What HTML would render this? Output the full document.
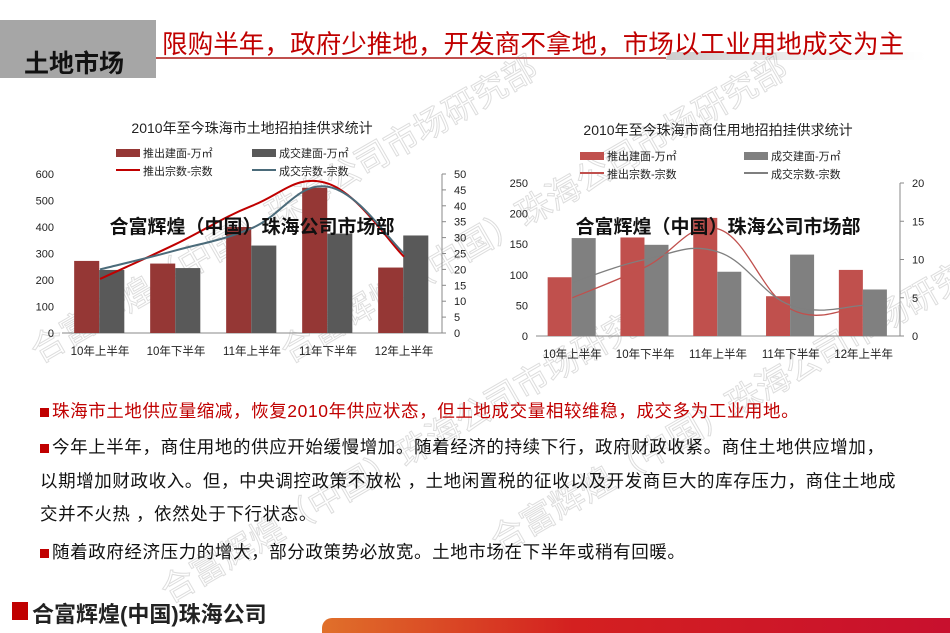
<!DOCTYPE html>
<html><head><meta charset="utf-8">
<style>
body{margin:0;width:950px;height:633px;overflow:hidden;background:#fff;position:relative;font-family:"Liberation Sans","Noto Sans CJK SC",sans-serif}
.abs{position:absolute}
.p{position:absolute;left:40px;font-size:17.5px;color:#111;white-space:nowrap;letter-spacing:0.6px}
.p b{display:inline-block;width:9px;height:9px;background:#c00000;margin-right:3px}
.wm{position:absolute;font-size:34px;white-space:nowrap;transform:rotate(-30deg);transform-origin:left top;-webkit-text-stroke:1px rgba(120,120,120,0.25);color:transparent}
</style></head><body>
<div class="abs" style="left:666px;top:52px;width:260px;height:8px;background:linear-gradient(90deg,#ccc,#eee,#fff);border-radius:8px 0 0 0"></div>
<div class="abs" style="left:0;top:20px;width:156px;height:58px;background:#a6a6a6;"></div>
<div class="abs" style="left:24px;top:44px;font-size:25px;font-weight:bold;color:#111">土地市场</div>
<div class="abs" style="left:162px;top:24px;font-size:25.6px;color:#c00000;white-space:nowrap">限购半年，政府少推地，开发商不拿地，市场以工业用地成交为主</div>
<div class="abs" style="left:156px;top:57px;width:510px;height:2px;background:#c0504d"></div>

<div class="wm" style="left:20px;top:330px">合富辉煌（中国）珠海公司市场研究部</div>
<div class="wm" style="left:270px;top:330px">合富辉煌（中国）珠海公司市场研究部</div>
<div class="wm" style="left:150px;top:570px">合富辉煌（中国）珠海公司市场研究部</div>
<div class="wm" style="left:480px;top:520px">合富辉煌（中国）珠海公司市场研究部</div>

<svg class="abs" style="left:0;top:0" width="950" height="633">
<g id="c1"></g><g id="c2"></g>
</svg>

<div class="p" style="top:398px"><b></b><span style="color:#c00000">珠海市土地供应量缩减，恢复2010年供应状态，但土地成交量相较维稳，成交多为工业用地。</span></div>
<div class="p" style="top:434px"><b></b>今年上半年，商住用地的供应开始缓慢增加。随着经济的持续下行，政府财政收紧。商住土地供应增加，</div>
<div class="p" style="top:468px">以期增加财政收入。但，中央调控政策不放松 ，土地闲置税的征收以及开发商巨大的库存压力，商住土地成</div>
<div class="p" style="top:501px">交并不火热 ，依然处于下行状态。</div>
<div class="p" style="top:539px"><b></b>随着政府经济压力的增大，部分政策势必放宽。土地市场在下半年或稍有回暖。</div>

<div class="abs" style="left:12px;top:602px;width:16px;height:18px;background:#c00000"></div>
<div class="abs" style="left:32px;top:597px;font-size:22px;font-weight:bold;color:#222">合富辉煌(中国)珠海公司</div>
<div class="abs" style="left:322px;top:618px;width:628px;height:15px;background:linear-gradient(90deg,#e0702a,#d42020 40%,#c8102e);border-radius:10px 0 0 0"></div>
<div class="abs" style="left:856px;top:608px;font-size:12px;color:#fff;font-family:'Liberation Mono',monospace">NO.03809</div>

<script>
const cats=["10年上半年","10年下半年","11年上半年","11年下半年","12年上半年"];
const c1Supply=[272,262,400,548,247];
const c1Deal=[238,245,330,375,368];
const c1SupplyCnt=[17,28,40,47,24];
const c1DealCnt=[20,26,33,46,25];
const c1LeftTicks=[0,100,200,300,400,500,600];
const c1RightTicks=[0,5,10,15,20,25,30,35,40,45,50];
const c2Supply=[96,161,193,65,108];
const c2Deal=[160,149,105,133,76];
const c2SupplyCnt=[5,9,14,3.5,4];
const c2DealCnt=[7,10,11,4,4];
const c2LeftTicks=[0,50,100,150,200,250];
const c2RightTicks=[0,5,10,15,20];

const NS="http://www.w3.org/2000/svg";
function mk(g,tag,a,txt){const e=document.createElementNS(NS,tag);for(const k in a)e.setAttribute(k,a[k]);if(txt!==undefined)e.textContent=txt;g.appendChild(e);return e;}
function smooth(pts){let d="M"+pts[0][0]+","+pts[0][1];for(let i=0;i<pts.length-1;i++){const p0=pts[i-1]||pts[i],p1=pts[i],p2=pts[i+1],p3=pts[i+2]||p2;const t=0.2;d+=" C"+(p1[0]+(p2[0]-p0[0])*t)+","+(p1[1]+(p2[1]-p0[1])*t)+" "+(p2[0]-(p3[0]-p1[0])*t)+","+(p2[1]-(p3[1]-p1[1])*t)+" "+p2[0]+","+p2[1];}return d;}
function chart(g,o){
  const y=v=>o.y0-(v/o.lmax)*(o.y0-o.y1);
  const yr=v=>o.y0-(v/o.rmax)*(o.y0-o.y1);
  const bw=(o.x1-o.x0)/cats.length;
  const x=i=>o.x0+bw*(i+0.5);
  let t=mk(g,"text",{x:(o.x0+o.x1)/2,y:o.ty,"text-anchor":"middle","font-size":14,fill:"#222"},o.title);
  
  o.lt.forEach(v=>{const e=mk(g,"text",{x:o.x0-8,y:y(v)+4,"text-anchor":"end","font-size":11,fill:"#222"},v);});
  o.rt.forEach(v=>{const e=mk(g,"text",{x:o.x1+12,y:yr(v)+4,"font-size":11,fill:"#222"},v);mk(g,"line",{x1:o.x1,x2:o.x1+4,y1:yr(v),y2:yr(v),stroke:"#888"});});
  mk(g,"line",{x1:o.x0,x2:o.x1,y1:o.y0,y2:o.y0,stroke:"#888"});
  mk(g,"line",{x1:o.x1,x2:o.x1,y1:o.y0,y2:o.y1,stroke:"#888"});
  cats.forEach((c,i)=>{
    const b1=mk(g,"rect",{x:x(i)-bw*0.34,y:y(o.s[i]),width:bw*0.33,height:o.y0-y(o.s[i]),fill:o.c1});
    
    const b2=mk(g,"rect",{x:x(i)-bw*0.01,y:y(o.d[i]),width:bw*0.33,height:o.y0-y(o.d[i]),fill:o.c2});
    
    const l=mk(g,"text",{x:x(i),y:o.y0+22,"text-anchor":"middle","font-size":11.5,fill:"#222"},c);
    
  });
  const p1=mk(g,"path",{d:smooth(o.sc.map((v,i)=>[x(i),yr(v)])),fill:"none",stroke:o.l1,"stroke-width":o.lw});
  
  const p2=mk(g,"path",{d:smooth(o.dc.map((v,i)=>[x(i),yr(v)])),fill:"none",stroke:o.l2,"stroke-width":o.lw});
  
  const L=o.lg;
  mk(g,"rect",{x:L[0],y:L[1]-8,width:24,height:8,fill:o.c1});
  mk(g,"text",{x:L[0]+27,y:L[1],"font-size":11,fill:"#222"},"推出建面-万㎡");
  mk(g,"rect",{x:L[2],y:L[1]-8,width:24,height:8,fill:o.c2});
  mk(g,"text",{x:L[2]+27,y:L[1],"font-size":11,fill:"#222"},"成交建面-万㎡");
  mk(g,"line",{x1:L[0],x2:L[0]+24,y1:L[1]+13,y2:L[1]+13,stroke:o.l1,"stroke-width":2});
  mk(g,"text",{x:L[0]+27,y:L[1]+18,"font-size":11,fill:"#222"},"推出宗数-宗数");
  mk(g,"line",{x1:L[2],x2:L[2]+24,y1:L[1]+13,y2:L[1]+13,stroke:o.l2,"stroke-width":2});
  mk(g,"text",{x:L[2]+27,y:L[1]+18,"font-size":11,fill:"#222"},"成交宗数-宗数");
  const w=mk(g,"text",{x:(o.x0+o.x1)/2,y:o.wy,"text-anchor":"middle","font-size":19,"font-weight":"bold",fill:"#111"},"合富辉煌（中国）珠海公司市场部");
  
}
chart(document.getElementById("c1"),{x0:62,x1:442,y0:333,y1:174,lmax:600,rmax:50,lt:c1LeftTicks,rt:c1RightTicks,s:c1Supply,d:c1Deal,sc:c1SupplyCnt,dc:c1DealCnt,c1:"#953735",c2:"#595959",l1:"#c00000",l2:"#4b6b7a",lw:2,title:"2010年至今珠海市土地招拍挂供求统计",ty:133,lg:[116,157,252],wy:233});
chart(document.getElementById("c2"),{x0:536,x1:900,y0:336,y1:183,lmax:250,rmax:20,lt:c2LeftTicks,rt:c2RightTicks,s:c2Supply,d:c2Deal,sc:c2SupplyCnt,dc:c2DealCnt,c1:"#c0504d",c2:"#808080",l1:"#c0504d",l2:"#7f7f7f",lw:1.3,title:"2010年至今珠海市商住用地招拍挂供求统计",ty:135,lg:[580,160,744],wy:233});
</script>
</body></html>
